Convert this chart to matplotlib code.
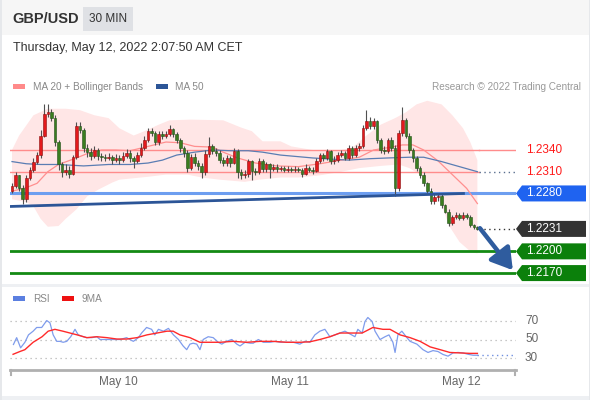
import numpy as np
import matplotlib
matplotlib.use("Agg")
import matplotlib.pyplot as plt
from matplotlib.patches import Rectangle, Polygon
from matplotlib.transforms import blended_transform_factory

plt.rcParams['font.family'] = ['Liberation Sans', 'DejaVu Sans']

# ---------------- data ----------------
pair = "GBP/USD"
timeframe = "30 MIN"
stamp = "Thursday, May 12, 2022 2:07:50 AM CET"
start_time = "2022-05-09T09:00"
first_open = 1.2283

close = [1.2290, 1.2305, 1.2288, 1.2272, 1.2302, 1.2313, 1.2324, 1.2333, 1.2360, 1.2390,
         1.2392, 1.2384, 1.2351, 1.2320, 1.2310, 1.2313, 1.2307, 1.2330, 1.2373, 1.2367,
         1.2343, 1.2337, 1.2332, 1.2340, 1.2332, 1.2330, 1.2329, 1.2330, 1.2326, 1.2329,
         1.2326, 1.2332, 1.2336, 1.2329, 1.2325, 1.2333, 1.2343, 1.2354, 1.2366, 1.2363,
         1.2351, 1.2362, 1.2359, 1.2362, 1.2369, 1.2362, 1.2354, 1.2343, 1.2336, 1.2315,
         1.2330, 1.2322, 1.2318, 1.2309, 1.2335, 1.2345, 1.2339, 1.2336, 1.2326, 1.2322,
         1.2329, 1.2322, 1.2339, 1.2310, 1.2305, 1.2307, 1.2325, 1.2311, 1.2310, 1.2325,
         1.2314, 1.2320, 1.2314, 1.2317, 1.2314, 1.2315, 1.2313, 1.2314, 1.2313, 1.2314,
         1.2313, 1.2307, 1.2315, 1.2313, 1.2311, 1.2325, 1.2333, 1.2329, 1.2339, 1.2325,
         1.2326, 1.2333, 1.2336, 1.2329, 1.2343, 1.2333, 1.2343, 1.2345, 1.2370, 1.2380,
         1.2373, 1.2380, 1.2354, 1.2340, 1.2339, 1.2354, 1.2343, 1.2288, 1.2363, 1.2381,
         1.2360, 1.2340, 1.2329, 1.2315, 1.2306, 1.2294, 1.2284, 1.2269, 1.2275, 1.2277,
         1.2264, 1.2255, 1.2239, 1.2247, 1.2250, 1.2246, 1.2250, 1.2247, 1.2236, 1.2234,
         1.2231]

high = [1.2294, 1.2309, 1.2306, 1.2291, 1.2305, 1.2317, 1.2329, 1.2337, 1.2367, 1.2403,
        1.2403, 1.2397, 1.2388, 1.2354, 1.2324, 1.2320, 1.2318, 1.2333, 1.2378, 1.2378,
        1.2370, 1.2348, 1.2343, 1.2345, 1.2343, 1.2336, 1.2335, 1.2336, 1.2333, 1.2335,
        1.2333, 1.2337, 1.2341, 1.2340, 1.2332, 1.2337, 1.2350, 1.2359, 1.2370, 1.2370,
        1.2366, 1.2366, 1.2366, 1.2366, 1.2374, 1.2371, 1.2365, 1.2356, 1.2345, 1.2340,
        1.2335, 1.2336, 1.2326, 1.2322, 1.2340, 1.2358, 1.2348, 1.2343, 1.2340, 1.2330,
        1.2333, 1.2332, 1.2343, 1.2341, 1.2314, 1.2313, 1.2328, 1.2326, 1.2315, 1.2329,
        1.2328, 1.2324, 1.2322, 1.2321, 1.2320, 1.2318, 1.2318, 1.2318, 1.2317, 1.2318,
        1.2317, 1.2315, 1.2320, 1.2318, 1.2317, 1.2329, 1.2336, 1.2336, 1.2341, 1.2340,
        1.2332, 1.2337, 1.2340, 1.2339, 1.2347, 1.2345, 1.2347, 1.2350, 1.2374, 1.2395,
        1.2385, 1.2384, 1.2382, 1.2356, 1.2345, 1.2356, 1.2358, 1.2347, 1.2367, 1.2400,
        1.2384, 1.2363, 1.2343, 1.2332, 1.2318, 1.2309, 1.2296, 1.2287, 1.2279, 1.2281,
        1.2280, 1.2266, 1.2258, 1.2250, 1.2254, 1.2253, 1.2254, 1.2253, 1.2250, 1.2238,
        1.2235]

low = [1.2280, 1.2287, 1.2283, 1.2265, 1.2268, 1.2299, 1.2310, 1.2320, 1.2329, 1.2358,
       1.2386, 1.2380, 1.2345, 1.2313, 1.2303, 1.2305, 1.2302, 1.2305, 1.2328, 1.2363,
       1.2337, 1.2330, 1.2326, 1.2329, 1.2326, 1.2325, 1.2325, 1.2326, 1.2321, 1.2324,
       1.2321, 1.2324, 1.2329, 1.2324, 1.2315, 1.2322, 1.2330, 1.2340, 1.2351, 1.2359,
       1.2347, 1.2347, 1.2355, 1.2356, 1.2359, 1.2358, 1.2350, 1.2337, 1.2330, 1.2310,
       1.2313, 1.2318, 1.2313, 1.2302, 1.2305, 1.2330, 1.2335, 1.2332, 1.2322, 1.2318,
       1.2318, 1.2317, 1.2320, 1.2302, 1.2300, 1.2302, 1.2303, 1.2299, 1.2306, 1.2307,
       1.2310, 1.2310, 1.2302, 1.2311, 1.2310, 1.2311, 1.2310, 1.2310, 1.2309, 1.2310,
       1.2309, 1.2303, 1.2305, 1.2310, 1.2307, 1.2309, 1.2322, 1.2325, 1.2326, 1.2321,
       1.2321, 1.2324, 1.2330, 1.2326, 1.2326, 1.2329, 1.2330, 1.2339, 1.2343, 1.2367,
       1.2369, 1.2369, 1.2350, 1.2336, 1.2335, 1.2336, 1.2339, 1.2277, 1.2283, 1.2359,
       1.2356, 1.2336, 1.2324, 1.2311, 1.2302, 1.2290, 1.2280, 1.2265, 1.2266, 1.2270,
       1.2260, 1.2253, 1.2235, 1.2236, 1.2245, 1.2243, 1.2243, 1.2245, 1.2234, 1.2231,
       1.2230]

# Bollinger bands / moving averages (candle index, price)
upper_idx = [0, 2, 6, 10, 15, 19, 23, 27, 30, 34, 37, 41, 44, 50, 59, 64, 67, 70, 75, 78,
             84, 92, 95, 99, 103, 107, 110, 113, 116, 120, 123, 126, 128, 130]
upper_val = [1.2340, 1.2360, 1.2388, 1.2397, 1.2397, 1.2395, 1.2388, 1.2384, 1.2370, 1.2360,
             1.2366, 1.2375, 1.2381, 1.2382, 1.2381, 1.2371, 1.2366, 1.2352, 1.2352, 1.2345,
             1.2340, 1.2340, 1.2343, 1.2360, 1.2375, 1.2384, 1.2392, 1.2403, 1.2408, 1.2403,
             1.2388, 1.2370, 1.2351, 1.2326]
lower_idx = [0, 4, 6, 8, 10, 13, 15, 18, 21, 24, 28, 30, 38, 43, 49, 53, 58, 65, 69, 75,
             80, 86, 92, 97, 103, 108, 111, 114, 117, 120, 122, 125, 128, 130]
lower_val = [1.2272, 1.2268, 1.2262, 1.2245, 1.2234, 1.2235, 1.2245, 1.2258, 1.2276, 1.2285,
             1.2295, 1.2299, 1.2303, 1.2306, 1.2306, 1.2302, 1.2299, 1.2296, 1.2299, 1.2302,
             1.2302, 1.2305, 1.2310, 1.2315, 1.2318, 1.2320, 1.2315, 1.2306, 1.2288, 1.2265,
             1.2236, 1.2213, 1.2200, 1.2197]
ma20_idx = [0, 4, 7, 10, 13, 18, 21, 25, 29, 33, 38, 43, 47, 51, 56, 59, 63, 68, 74, 80,
            86, 92, 97, 101, 106, 109, 112, 115, 119, 123, 127, 130]
ma20_val = [1.2283, 1.2288, 1.2294, 1.2310, 1.2320, 1.2329, 1.2335, 1.2340, 1.2340, 1.2339,
            1.2345, 1.2351, 1.2350, 1.2345, 1.2344, 1.2337, 1.2329, 1.2322, 1.2318, 1.2317,
            1.2321, 1.2326, 1.2330, 1.2340, 1.2344, 1.2347, 1.2347, 1.2340, 1.2325, 1.2306,
            1.2287, 1.2266]
ma50_idx = [0, 4, 8, 13, 20, 27, 33, 38, 42, 46, 51, 56, 61, 66, 70, 75, 84, 94, 100, 105,
            111, 115, 120, 125, 130]
ma50_val = [1.2324, 1.2321, 1.2320, 1.2320, 1.2318, 1.2320, 1.2320, 1.2322, 1.2326, 1.2333,
            1.2337, 1.2340, 1.2339, 1.2339, 1.2337, 1.2333, 1.2329, 1.2326, 1.2328, 1.2329,
            1.2330, 1.2330, 1.2324, 1.2317, 1.2310]

# RSI (14) and its 9-period MA
rsi_idx = [0.4, 1.3, 2.4, 3.6, 4.6, 5.9, 6.9, 8.3, 9.7, 10.6, 11.5, 12.5, 13.4, 14.3, 15.3,
           16.4, 17.6, 18.5, 19.9, 20.9, 22.3, 23.7, 24.6, 26.5, 28.3, 30.2, 32.0, 33.9, 35.3,
           36.2, 37.6, 39.0, 39.9, 40.9, 42.3, 43.7, 45.1, 46.5, 47.8, 48.8, 49.7, 50.6, 51.6,
           52.5, 53.4, 54.8, 56.2, 57.6, 58.6, 59.9, 61.4, 62.8, 63.7, 65.1, 66.5, 67.4, 68.8,
           70.2, 72.1, 73.5, 74.9, 76.7, 78.6, 80.4, 81.8, 83.2, 84.6, 86.0, 87.4, 88.8, 90.2,
           91.6, 93.0, 94.4, 95.8, 96.6, 97.8, 98.6, 99.4, 100.6, 101.4, 102.8, 104.2, 105.3,
           106.4, 107.0, 107.8, 108.9, 110.1, 111.2, 113.1, 114.8, 116.2, 117.6, 119.0, 120.4,
           121.8, 123.2, 124.6, 126.0, 127.4, 128.8, 130.0]
rsi_val = [44.6, 52, 41, 47, 55, 59, 63, 63, 70.5, 68, 55, 48, 48, 47, 48,
           53, 61, 55, 53, 52, 52, 53, 50, 50, 50, 50, 52, 48, 52,
           57, 63, 61, 55, 61, 59, 62, 55, 50, 43, 39, 45, 46, 45,
           39, 50, 53, 52, 47, 45, 48, 50, 45, 43, 47, 46, 46, 50,
           47, 47, 48, 47, 47, 47, 45, 48, 47, 55, 59, 61, 53, 55,
           57, 59, 56, 53, 61, 57, 69.5, 73.8, 69.5, 59, 50, 53, 55,
           47, 36, 55, 59, 53, 48, 45, 39, 36, 38, 37, 33.8,
           32, 35.5, 36, 35.5, 34, 33, 33]
rsi_ma_idx = [0.3, 2.2, 3.6, 5.9, 8.4, 10.1, 12.0, 14.2, 16.2, 18.2, 20.9, 23.7, 26.5, 29.3,
              32.1, 34.9, 37.7, 40.5, 43.3, 45.0, 46.9, 49.7, 52.5, 55.3, 58.1, 61.7, 65.6,
              69.3, 72.9, 76.8, 80.4, 83.2, 86.0, 88.8, 91.6, 94.4, 97.8, 100.8, 103.6, 105.6,
              108.4, 111.2, 114.0, 116.8, 119.6, 122.3, 125.1, 127.9, 130.0]
rsi_ma_val = [34, 37, 39, 47, 53, 59, 61, 59, 57, 55, 52, 53, 52, 50.5,
              50.5, 52, 55, 57, 59, 59, 55, 52, 47, 47, 47, 48, 47,
              48, 48, 47, 47, 47.5, 50, 53, 57, 57, 57, 63, 61, 61,
              55, 52, 48, 42, 39, 36, 35.5, 35, 35]
rsi_levels = [30, 50, 70]

# key levels
resistances = [1.2340, 1.2310]
pivot = 1.2280
last_price = 1.2231
supports = [1.2200, 1.2170]
trend_idx = [-0.56, 126.5]
trend_val = [1.2262, 1.2280]
arrow_idx = [130.7, 139.9]
arrow_val = [1.2232, 1.2174]

# ---------------- layout helpers ----------------
W, H = 590, 400
fig = plt.figure(figsize=(W / 100, H / 100), dpi=100)
fig.patch.set_facecolor('white')


def F(x, y):
    return (x / W, 1 - y / H)


def frect(x0, y0, x1, y1, color, z=0):
    fig.add_artist(Rectangle(F(x0, y1), (x1 - x0) / W, (y1 - y0) / H,
                             transform=fig.transFigure, facecolor=color,
                             edgecolor='none', zorder=z))


# header
frect(0, 0, W, 35, '#f6f6f6')
frect(83, 7, 133, 31, '#dfe1e5', z=1)
fig.text(*F(12, 19), pair, fontsize=10.5, fontweight='bold', color='#333333', va='center')
fig.text(*F(108, 19), timeframe, fontsize=8.5, color='#333333', va='center', ha='center')
fig.text(*F(13, 48), stamp, fontsize=9, color='#333333', va='center')

# legends
frect(13, 84, 25, 89, '#ff8a8a', z=1)
fig.text(*F(33, 86.5), "MA 20 + Bollinger Bands", fontsize=7.2, color='#888888', va='center')
frect(156, 84, 168, 89, '#2c5597', z=1)
fig.text(*F(175, 86.5), "MA 50", fontsize=7.2, color='#888888', va='center')
fig.text(*F(581, 86.5), "Research \u00a9 2022 Trading Central", fontsize=7.2,
         color='#999999', va='center', ha='right')
frect(13, 296, 25, 301, '#5b7fe0', z=1)
fig.text(*F(33, 298.5), "RSI", fontsize=7.2, color='#888888', va='center')
frect(62, 296, 74, 301, '#ee1111', z=1)
fig.text(*F(82, 298.5), "9MA", fontsize=7.2, color='#888888', va='center')

# separators / frame
frect(0, 284, W, 287, '#eef0f3')
frect(0, 396, W, H, '#eef0f3')
frect(0, 0, 1.5, H, '#e6e8eb', z=2)
frect(W - 1.5, 0, W, H, '#e6e8eb', z=2)

# ---------------- main price panel ----------------
n = len(close)
x = np.arange(n)
c = np.array(close)
o = np.concatenate([[first_open], c[:-1]])
hi = np.array(high)
lo = np.array(low)

PX = 3.58                       # pixels per candle
x0_px = 12.0                    # pixel of candle 0
xmin = (10 - x0_px) / PX
xmax = (516 - x0_px) / PX
ppu = 7240.0                    # pixels per price unit
ytop = 1.2340 + (150 - 95) / ppu
ybot = 1.2340 - (283 - 150) / ppu

ax = fig.add_axes([10 / W, 1 - 283 / H, 506 / W, 188 / H])
ax.set_xlim(xmin, xmax)
ax.set_ylim(ybot, ytop)
ax.axis('off')

# bollinger band
poly_x = list(upper_idx) + list(lower_idx[::-1])
poly_y = list(upper_val) + list(lower_val[::-1])
ax.fill(poly_x, poly_y, color='#ffe6e6', lw=0, zorder=0)
ax.plot(ma20_idx, ma20_val, color='#ff8f8f', lw=0.9, zorder=2)
ax.plot(ma50_idx, ma50_val, color='#5a7db3', lw=0.9, zorder=2)

# level lines
for r in resistances:
    ax.plot([xmin, n - 0.5], [r, r], color='#ff8c8c', lw=1.0, zorder=1)
ax.plot([n - 0.5, xmax], [resistances[0]] * 2, color='#ff8c8c', lw=1.0, zorder=1)
ax.plot([ma50_idx[-1] + 0.5, xmax], [ma50_val[-1]] * 2, color='#5a6f8f', lw=1.0,
        ls=(0, (1, 2.5)), zorder=1)
ax.plot([xmin, xmax], [pivot, pivot], color='#6d9ef0', lw=2.2, zorder=1)
for s in supports:
    ax.plot([xmin, xmax], [s, s], color='#138a13', lw=2.0, zorder=1)
ax.plot(trend_idx, trend_val, color='#2c5597', lw=2.0, zorder=5, solid_capstyle='butt')
ax.plot([n - 0.5, xmax], [last_price] * 2, color='#333333', lw=1.0,
        ls=(0, (1, 2.5)), zorder=1)

# candles
up = c >= o
body_lo = np.minimum(o, c)
body_h = np.maximum(np.abs(c - o), 0.00005)
ax.vlines(x, lo, hi, color='#505050', lw=0.8, zorder=3)
ax.bar(x, body_h, bottom=body_lo, width=0.72,
       color=np.where(up, '#e3191c', '#3b7d1f'),
       edgecolor=np.where(up, '#8a1010', '#22501a'), linewidth=0.4, zorder=4)

# arrow
ax.annotate('', xy=(arrow_idx[1], arrow_val[1]), xytext=(arrow_idx[0], arrow_val[0]),
            arrowprops=dict(arrowstyle='-|>,head_width=0.55,head_length=0.9',
                            color='#2f5c9e', lw=3.2, mutation_scale=14,
                            shrinkA=0, shrinkB=0), zorder=6, annotation_clip=False)

# right-hand price labels
bt = blended_transform_factory(ax.transAxes, ax.transData)
hh = 8 / ppu
ax_w = 506.0


def tag(val, color):
    pts = [(1.0, val), (1 + 6 / ax_w, val + hh), (1 + 70 / ax_w, val + hh),
           (1 + 70 / ax_w, val - hh), (1 + 6 / ax_w, val - hh)]
    ax.add_patch(Polygon(pts, closed=True, transform=bt, facecolor=color,
                         edgecolor='none', clip_on=False, zorder=7))
    ax.text(1 + 10 / ax_w, val, f"{val:.4f}", transform=bt, color='white',
            fontsize=8.5, va='center', ha='left', zorder=8, clip_on=False)


for r in resistances:
    ax.text(1 + 10 / ax_w, r, f"{r:.4f}", transform=bt, color='#ff1a1a',
            fontsize=8.5, va='center', ha='left', clip_on=False)
tag(pivot, '#1f63f0')
tag(last_price, '#333333')
for s in supports:
    tag(s, '#0b800b')

# ---------------- RSI panel ----------------
vpp = 40 / 37.0                 # RSI units per pixel
r_top = 70 + (321 - 310) * vpp
r_bot = 30 - (366 - 358) * vpp
ax2 = fig.add_axes([10 / W, 1 - 366 / H, 506 / W, 56 / H])
ax2.set_xlim(xmin, xmax)
ax2.set_ylim(r_bot, r_top)
ax2.axis('off')
bt2 = blended_transform_factory(ax2.transAxes, ax2.transData)
for lv in rsi_levels:
    ax2.plot([xmin, xmax], [lv, lv], color='#b5b5b5', lw=0.9, ls=(0, (1, 3)), zorder=1)
    ax2.text(1 + 9 / ax_w, lv, str(lv), transform=bt2,
             color='#666666', fontsize=8.5, va='center', ha='left', clip_on=False)
ax2.plot(rsi_idx, rsi_val, color='#7f9cec', lw=0.9, zorder=2)
ax2.plot(rsi_ma_idx, rsi_ma_val, color='#ff2a2a', lw=1.0, zorder=3)
ax2.plot([rsi_idx[-1], xmax], [rsi_val[-1]] * 2, color='#6f8fe0', lw=1.0,
         ls=(0, (1, 2.5)), zorder=2)

# time axis
ax3 = fig.add_axes([10 / W, 1 - 376 / H, 506 / W, 6 / H])
ax3.set_xlim(xmin, xmax)
ax3.set_ylim(0, 6)
ax3.axis('off')
ax3.plot([xmin, xmax], [6, 6], color='#b0b0b0', lw=2.0, clip_on=False)
ax3.plot([xmin + 0.3, xmin + 0.3], [6, 1], color='#b0b0b0', lw=1.5, clip_on=False)
ax3.plot([xmax - 0.3, xmax - 0.3], [6, 1], color='#b0b0b0', lw=1.5, clip_on=False)

times = np.datetime64(start_time) + np.arange(n) * np.timedelta64(30, 'm')
months = ['Jan', 'Feb', 'Mar', 'Apr', 'May', 'Jun', 'Jul', 'Aug', 'Sep', 'Oct', 'Nov', 'Dec']
for i, t in enumerate(times):
    if (t - t.astype('datetime64[D]')) == np.timedelta64(0, 'm'):
        d = t.astype('datetime64[D]').item()
        ax3.text(i - 0.4, -6, f"{months[d.month - 1]} {d.day}", color='#666666',
                 fontsize=8.5, ha='center', va='center', clip_on=False)

fig.savefig('out.png', dpi=100)
